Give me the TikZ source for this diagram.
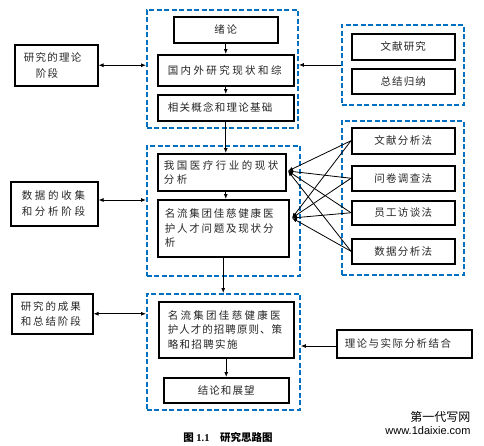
\documentclass[tikz,border=0pt]{standalone}
\usepackage{fontspec}
\setmainfont{Liberation Serif}
\newfontfamily\cjk{Noto Sans CJK SC}
\newfontfamily\wmfont{Liberation Sans}
\usetikzlibrary{arrows.meta}
\definecolor{dblue}{RGB}{0,112,192}
\newcommand\ls[2]{{\addfontfeature{LetterSpace=#1}#2}}
\tikzset{
  box/.style={draw=black, line width=1.5pt, anchor=north west, inner sep=0pt,
    font=\cjk\fontsize{10.5}{14.5}\selectfont, text=black!85},
  dbox/.style={draw=dblue, line width=1.9pt, dash pattern=on 5pt off 2.5pt,
    anchor=north west, inner sep=0pt},
  arr/.style={-{Latex[length=5pt,width=4pt]}, line width=0.8pt},
  darr/.style={{Latex[length=5pt,width=4pt]}-{Latex[length=5pt,width=4pt]}, line width=0.8pt},
}
\begin{document}
\begin{tikzpicture}[x=1pt,y=-1pt]
\fill[white] (0,0) rectangle (484,445);
\useasboundingbox (0,0) rectangle (484,445);

% dashed groups
\node[dbox, minimum width=151pt, minimum height=118pt] (D1) at (146,9) {};
\node[dbox, minimum width=153pt, minimum height=130pt] (D2) at (146,145) {};
\node[dbox, minimum width=153pt, minimum height=116pt] (D3) at (146,293) {};
\node[dbox, minimum width=122pt, minimum height=80pt] (R1) at (341,24) {};
\node[dbox, minimum width=122pt, minimum height=154pt] (R2) at (341,120) {};

% first group
\node[box, minimum width=104pt, minimum height=26pt] (intro) at (173,16) {\ls{15}{绪论}};
\node[box, minimum width=136pt, minimum height=31pt, text width=116pt, align=left] (lit) at (157,54) {\ls{23}{国内外研究现状和综}};
\node[box, minimum width=136pt, minimum height=26pt, text width=116pt, align=left] (concept) at (157,94) {\ls{12}{相关概念和理论基础}};
\node[box, minimum width=83pt, minimum height=41pt, text width=65pt, align=left] (L1) at (14,44) {\ls{12}{研究的理论}\\[2pt]\hspace*{12pt}\ls{12}{阶段}};
\node[box, minimum width=103pt, minimum height=26pt] (wx) at (351,33) {\ls{10}{文献研究}};
\node[box, minimum width=103pt, minimum height=25pt] (zj) at (351,68) {\ls{10}{总结归纳}};

% second group
\node[box, minimum width=128pt, minimum height=37pt, text width=116pt, align=left] (cur) at (157,153) {\ls{24}{我国医疗行业的现状}\\\ls{24}{分析}};
\node[box, minimum width=131pt, minimum height=57pt, text width=117pt, align=left] (prob) at (157,199) {\ls{17}{名流集团佳慈健康医}\\\ls{17}{护人才问题及现状分}\\\ls{17}{析}};
\node[box, minimum width=87pt, minimum height=44pt, text width=65pt, align=left] (L2) at (10,181) {\ls{26}{数据的收集}\\[2pt]\ls{26}{和分析阶段}};
\node[box, minimum width=103pt, minimum height=26pt] (m1) at (351,127) {\ls{12}{文献分析法}};
\node[box, minimum width=103pt, minimum height=25pt] (m2) at (351,165) {\ls{12}{问卷调查法}};
\node[box, minimum width=103pt, minimum height=24pt] (m3) at (351,200) {\ls{12}{员工访谈法}};
\node[box, minimum width=103pt, minimum height=25pt] (m4) at (351,238) {\ls{12}{数据分析法}};
\coordinate (p1) at (288,171);
\coordinate (p2) at (292,218);

% third group
\node[box, minimum width=135pt, minimum height=56pt, text width=117pt, align=left] (rec) at (158,301) {\ls{22}{名流集团佳慈健康医}\\\ls{10}{护人才的招聘原则、策}\\\ls{13}{略和招聘实施}};
\node[box, minimum width=125pt, minimum height=25pt] (con) at (163,377) {\ls{10}{结论和展望}};
\node[box, minimum width=81pt, minimum height=40pt, text width=63pt, align=left] (L3) at (11,293) {\ls{18}{研究的成果}\\[1pt]\ls{18}{和总结阶段}};
\node[box, minimum width=135pt, minimum height=28pt, text width=119pt, align=left] (R3) at (336,329) {\ls{14}{理论与实际分析结合}};

% connectors
\draw[arr] (intro.south) -- (lit.north);
\draw[arr] (lit.south) -- (concept.south |- concept.north);
\draw[arr] (concept.south) -- (concept.south |- cur.north);
\draw[arr] (cur.south -| concept.south) -- (prob.north -| concept.south);
\draw[arr] (prob.south) -- (prob.south |- D3.north);
\draw[arr] (rec.south) -- (con.north);
\draw[darr] (L1.east) -- (L1.east -| D1.west);
\draw[darr] (L2.east |- 0,200) -- (D2.west |- 0,200);
\draw[darr] (L3.east) -- (L3.east -| D3.west);
\draw[arr] (R1.west) -- (R1.west -| D1.east);
\draw[arr] (R3.west |- 0,346) -- (D3.east |- 0,346);
\foreach \m in {m1,m2,m3,m4}{
  \draw[arr] (\m.west) -- (p1);
  \draw[arr] (\m.west) -- (p2);
}

% caption and mark
\node[font=\cjk\bfseries\fontsize{10.5}{12}\selectfont] (cap) at (228,437) {图 {\rmfamily\bfseries 1.1}\quad 研究思路图};
\node[anchor=east, font=\cjk\fontsize{12}{12}\selectfont] (wm1) at (474,417) {第一代写网};
\node[anchor=east, font=\wmfont\fontsize{11}{11}\selectfont] (wm2) at (474,431) {www.1daixie.com};
\end{tikzpicture}
\end{document}
